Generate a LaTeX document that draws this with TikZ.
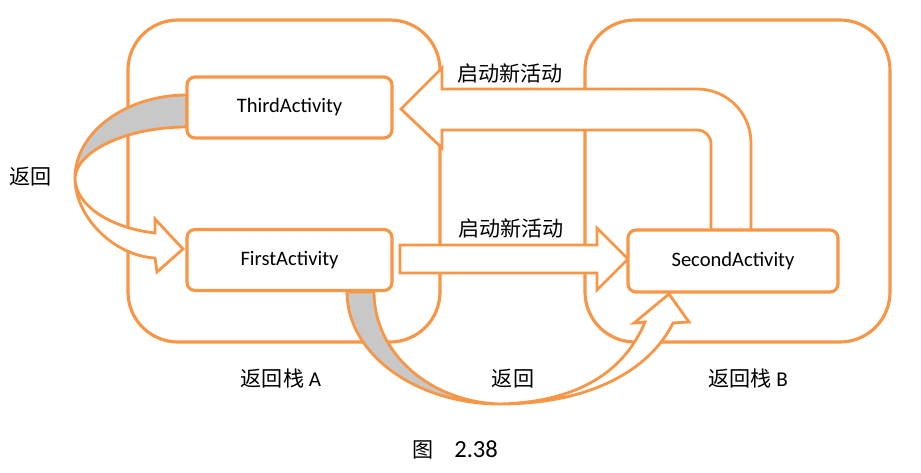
\documentclass[tikz,border=0pt]{standalone}
\usepackage{fontspec}
\setmainfont{Carlito}
\newfontfamily\cjk{Noto Sans CJK SC}
\definecolor{stackorange}{RGB}{247,150,70}
\definecolor{backgray}{RGB}{200,200,200}

\begin{document}
\begin{tikzpicture}[x=0.02cm,y=-0.02cm,
    stackframe/.style={draw=stackorange,line width=1.8pt,rounded corners=1cm},
    actbox/.style={draw=stackorange,line width=1.8pt,fill=white,rounded corners=0.16cm,
      minimum width=4.1cm,minimum height=1.22cm,inner sep=0pt,
      font=\fontsize{11.7}{13}\selectfont},
    bigarrow/.style={draw=stackorange,line width=1.6pt,fill=white,line join=miter},
    backside/.style={draw=stackorange,line width=1.6pt,fill=backgray},
    cnlabel/.style={font=\fontsize{12}{14}\selectfont\cjk,inner sep=0pt},
    stacklabel/.style={font=\fontsize{12}{14}\selectfont,inner sep=0pt}]
  \useasboundingbox (0,0) rectangle (921,473);

  % Drawing stack A
  \draw[stackframe] (128,20) rectangle (440,342);
  % Drawing stack B
  \draw[stackframe] (585,20) rectangle (890,342);

  % Arrow second -> third (start new activity)
  \draw[bigarrow] (711,230) -- (711,144) .. controls (711,136) and (705,130) .. (697,130)
    -- (442,130) -- (442,148) -- (401,109) -- (442,68) -- (442,89) -- (697,89)
    .. controls (727,89) and (751,113) .. (751,143) -- (751,230);

  % Arrow first -> second (start new activity)
  \draw[bigarrow] (400,245) -- (597,245) -- (597,228) -- (628,259) -- (597,290)
    -- (597,273) -- (400,273) -- cycle;

  % Curved arrow third -> first (back)
  \draw[backside] (187,95) .. controls (125,95) and (75,133) .. (75,178)
    .. controls (76,152) and (125,127) .. (187,127) -- cycle;
  \draw[bigarrow] (75,178) .. controls (75,218) and (115,256) .. (155,258)
    -- (157,272) -- (183,249) -- (155,219) -- (155,233)
    .. controls (110,228) and (75,205) .. (75,178) -- cycle;

  % Curved arrow first -> second (back)
  \draw[backside] (347,292) .. controls (347,354) and (416,404) .. (500,404)
    .. controls (430,402) and (374,353) .. (374,292) -- cycle;
  \draw[bigarrow] (500,404) .. controls (590,404) and (650,370) .. (673,323)
    -- (689,322) -- (669,294) -- (634,323) -- (645,322)
    .. controls (625,370) and (580,402) .. (500,404) -- cycle;

  % Activities
  \node[actbox] (third) at (289.5,107.5) {ThirdActivity};
  \node[actbox] (first) at (289.5,260) {FirstActivity};
  \node[actbox,minimum width=4.2cm,minimum height=1.24cm] (second) at (733,261) {SecondActivity};

  % Labels
  \node[cnlabel] (backleft) at (31,177) {返回};
  \node[cnlabel] (newtop) at (510,73) {启动新活动};
  \node[cnlabel] (newmid) at (511,228) {启动新活动};
  \node[cnlabel] (backbottom) at (513,379) {返回};
  \node[stacklabel] (stacka) at (281,378) {{\cjk 返回栈} A};
  \node[stacklabel] (stackb) at (748,378) {{\cjk 返回栈} B};
  \node[stacklabel] (caption) at (455,450) {{\cjk 图}\quad{\fontsize{14}{16}\selectfont 2.38}};
\end{tikzpicture}
\end{document}
